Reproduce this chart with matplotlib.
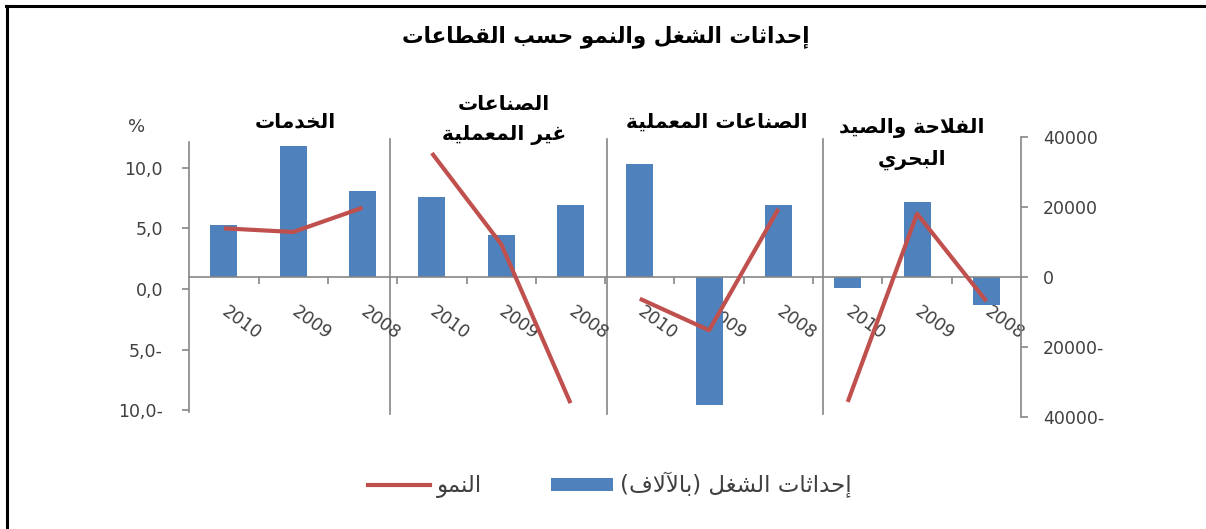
import matplotlib
matplotlib.use("Agg")
import matplotlib.pyplot as plt
from matplotlib.lines import Line2D
from matplotlib.patches import Patch
from matplotlib.ticker import FixedLocator
import numpy as np

# ---------------- data ----------------
sectors = ["الخدمات", "الصناعات\nغير المعملية", "الصناعات المعملية", "الفلاحة والصيد\nالبحري"]
years = ["2010", "2009", "2008"]
jobs_services = [14800, 37200, 24500]
jobs_nonmanuf = [22900, 11900, 20500]
jobs_manuf = [32300, -36600, 20500]
jobs_agri = [-3100, 21200, -8200]
growth_services = [5.0, 4.7, 6.7]
growth_nonmanuf = [11.2, 3.7, -9.4]
growth_manuf = [-0.8, -3.4, 6.6]
growth_agri = [-9.3, 6.2, -1.0]
left_ticks = [-10, -5, 0, 5, 10]
left_ticklabels = ["10,0-", "5,0-", "0,0", "5,0", "10,0"]
right_ticks = [-40000, -20000, 0, 20000, 40000]
right_ticklabels = ["40000-", "20000-", "0", "20000", "40000"]
title = "إحداثات الشغل والنمو حسب القطاعات"
legend_jobs = "إحداثات الشغل (بالآلاف)"
legend_growth = "النمو"

# ---------------- minimal Arabic shaping ----------------
_AR = {
    'ء': (0xFE80, 'U'), 'آ': (0xFE81, 'R'), 'أ': (0xFE83, 'R'), 'ؤ': (0xFE85, 'R'),
    'إ': (0xFE87, 'R'), 'ئ': (0xFE89, 'D'), 'ا': (0xFE8D, 'R'), 'ب': (0xFE8F, 'D'),
    'ة': (0xFE93, 'R'), 'ت': (0xFE95, 'D'), 'ث': (0xFE99, 'D'), 'ج': (0xFE9D, 'D'),
    'ح': (0xFEA1, 'D'), 'خ': (0xFEA5, 'D'), 'د': (0xFEA9, 'R'), 'ذ': (0xFEAB, 'R'),
    'ر': (0xFEAD, 'R'), 'ز': (0xFEAF, 'R'), 'س': (0xFEB1, 'D'), 'ش': (0xFEB5, 'D'),
    'ص': (0xFEB9, 'D'), 'ض': (0xFEBD, 'D'), 'ط': (0xFEC1, 'D'), 'ظ': (0xFEC5, 'D'),
    'ع': (0xFEC9, 'D'), 'غ': (0xFECD, 'D'), 'ف': (0xFED1, 'D'), 'ق': (0xFED5, 'D'),
    'ك': (0xFED9, 'D'), 'ل': (0xFEDD, 'D'), 'م': (0xFEE1, 'D'), 'ن': (0xFEE5, 'D'),
    'ه': (0xFEE9, 'D'), 'و': (0xFEED, 'R'), 'ى': (0xFEEF, 'R'), 'ي': (0xFEF1, 'D'),
}
_LAMALEF = {'آ': 0xFEF5, 'أ': 0xFEF7, 'إ': 0xFEF9, 'ا': 0xFEFB}


def _shape_line(s):
    toks = []
    i = 0
    while i < len(s):
        ch = s[i]
        if ch == 'ل' and i + 1 < len(s) and s[i + 1] in _LAMALEF:
            toks.append((_LAMALEF[s[i + 1]], 'R'))
            i += 2
            continue
        if ch in _AR:
            toks.append(_AR[ch])
        else:
            toks.append((ch, None))
        i += 1
    out = []
    for k, (b, t) in enumerate(toks):
        if t is None:
            out.append(b)
            continue
        prev = k > 0 and toks[k - 1][1] == 'D'
        nxt = t == 'D' and k + 1 < len(toks) and toks[k + 1][1] in ('D', 'R')
        if t == 'U':
            off = 0
        elif prev and nxt:
            off = 3
        elif prev:
            off = 1
        elif nxt:
            off = 2
        else:
            off = 0
        out.append(chr(b + off))
    res = ''.join(out)[::-1]
    res = res.translate(str.maketrans('()', ')('))
    return res


def ar(s):
    return '\n'.join(_shape_line(l) for l in s.split('\n'))


# ---------------- figure ----------------
W, H = 1206, 529
fig = plt.figure(figsize=(W / 100, H / 100), dpi=100)
fig.patch.set_facecolor('white')

BLUE = '#4F81BD'
RED = '#C0504D'
GRAY = '#868686'
TXT = '#404040'

ax = fig.add_axes([189.3 / W, 1 - 416.7 / H, (1021 - 189.3) / W, (416.7 - 136.7) / H])
ax2 = ax.twinx()

jobs = jobs_services + jobs_nonmanuf + jobs_manuf + jobs_agri
growth_groups = [growth_services, growth_nonmanuf, growth_manuf, growth_agri]
labels = years * len(sectors)
x = np.arange(len(jobs))

ax.bar(x, jobs, width=0.39, color=BLUE, zorder=2)
ax.set_xlim(-0.5, len(jobs) - 0.5)
ax.set_ylim(-40000, 40000)

for gi, g in enumerate(growth_groups):
    ax2.plot(x[gi * 3:(gi + 1) * 3], g, color=RED, lw=3.0, solid_capstyle='butt', zorder=3)
ax2.set_ylim(-10.52, 12.55)

# bar (right) axis styling
ax.yaxis.tick_right()
ax.yaxis.set_label_position('right')
for s in ['top', 'left']:
    ax.spines[s].set_visible(False)
ax.spines['right'].set_color(GRAY)
ax.spines['right'].set_linewidth(1.2)
ax.spines['bottom'].set_position(('data', 0))
ax.spines['bottom'].set_color(GRAY)
ax.spines['bottom'].set_linewidth(1.2)
ax.set_yticks(right_ticks)
ax.set_yticklabels(right_ticklabels)
ax.tick_params(axis='y', which='major', direction='out', length=5, width=1.2, color=GRAY,
               labelsize=12.5, labelcolor=TXT, pad=11)

ax.set_xticks(x)
ax.set_xticklabels(labels)
ax.xaxis.set_minor_locator(FixedLocator(np.arange(0.5, len(jobs) - 0.5, 1.0)))
ax.tick_params(axis='x', which='major', length=0, pad=24, labelsize=12.5, labelcolor=TXT)
ax.tick_params(axis='x', which='minor', direction='out', length=5, width=1.2, color=GRAY)
for lab in ax.get_xticklabels():
    lab.set_rotation(-36)
    lab.set_rotation_mode('anchor')
    lab.set_ha('left')
    lab.set_va('center')

# panel separators
for sx in [2.4, 5.53, 8.64]:
    ax.axvline(sx, ymin=0.01, ymax=0.99, color=GRAY, lw=1.2, zorder=1)

# growth (left) axis styling
ax2.yaxis.tick_left()
for s in ['top', 'right', 'bottom']:
    ax2.spines[s].set_visible(False)
ax2.spines['left'].set_color(GRAY)
ax2.spines['left'].set_linewidth(1.2)
ax2.spines['left'].set_bounds(-10.1, 12.1)
ax2.set_yticks(left_ticks)
ax2.set_yticklabels(left_ticklabels)
ax2.tick_params(axis='y', direction='out', length=5, width=1.2, color=GRAY,
                labelsize=12.5, labelcolor=TXT, pad=14)
ax2.tick_params(axis='x', bottom=False, labelbottom=False, top=False, labeltop=False)

# percent sign
fig.text(137 / W, 1 - 127 / H, '%', ha='center', va='center', fontsize=13, color=TXT)

# panel titles
title_pos = [(295, [122]), (504, [105, 135]), (717, [122]), (912, [128, 160])]
for name, (px, ys) in zip(sectors, title_pos):
    lines = name.split('\n')
    for ln, py in zip(lines, ys):
        fig.text(px / W, 1 - py / H, ar(ln), ha='center', va='center', fontsize=14.5,
                 fontweight='bold', color='black', family='DejaVu Sans')

# main title
fig.text(606 / W, 1 - 37 / H, ar(title), ha='center', va='center', fontsize=15.5,
         fontweight='bold', color='black', family='DejaVu Sans')

# legend
handles = [Line2D([0], [0], color=RED, lw=3.0), Patch(facecolor=BLUE, edgecolor='none')]
fig.legend(handles, [ar(legend_growth), ar(legend_jobs)], loc='center',
           bbox_to_anchor=(610 / W, 1 - 485 / H), ncol=2, frameon=False,
           fontsize=16.5, handlelength=2.7, handleheight=0.5, handletextpad=0.3,
           columnspacing=3.0, labelcolor=TXT)

# outer frame (top and left)
fig.add_artist(Line2D([6 / W, 1.0], [1 - 6 / H, 1 - 6 / H], color='black', lw=2.2,
                      transform=fig.transFigure))
fig.add_artist(Line2D([7 / W, 7 / W], [0.0, 1 - 6 / H], color='black', lw=2.2,
                      transform=fig.transFigure))

fig.savefig('out.png', dpi=100)
